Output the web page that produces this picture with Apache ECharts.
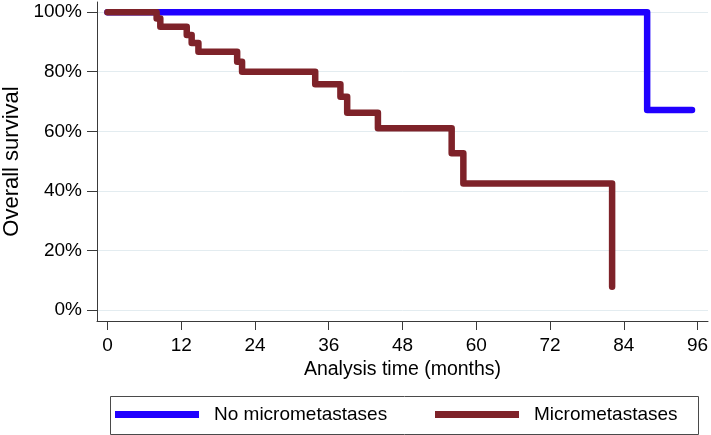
<!DOCTYPE html>
<html>
<head>
<meta charset="utf-8">
<script src="https://cdn.jsdelivr.net/npm/echarts@6/dist/echarts.min.js"></script>
<style>
html,body{margin:0;padding:0;background:#fff;}
#chart{width:711px;height:435px;}
</style>
</head>
<body>
<div id="chart"></div>
<script>
// Data (months, survival %)
var noMicroTime = [0, 87.8, 95.1];
var noMicroSurv = [100, 67.1, 67.1];
var microTime = [0, 8.0, 8.6, 12.9, 13.7, 14.8, 21.1, 21.9, 33.8, 37.9, 39.0, 44.0, 56.0, 57.9, 82.1];
var microSurv = [100, 97.9, 95.1, 92.3, 89.6, 86.7, 83.3, 80.0, 75.8, 71.6, 66.2, 61.0, 52.6, 42.5, 7.8];
var xTicks = [0, 12, 24, 36, 48, 60, 72, 84, 96];
var yTicks = [0, 20, 40, 60, 80, 100];
var seriesNames = ['No micrometastases', 'Micrometastases'];

function pairs(t, s) { return t.map(function (v, i) { return [v, s[i]]; }); }

var FONT = 'Liberation Sans, Arial, sans-serif';
var FS = 19;
var chart = echarts.init(document.getElementById('chart'), null, {renderer: 'canvas'});
chart.setOption({
  animation: false,
  backgroundColor: '#ffffff',
  grid: {left: 97, right: 3, top: 2, bottom: 114, containLabel: false, outerBoundsMode: 'none'},
  xAxis: {
    type: 'value', min: -1.7, max: 97.7,
    name: 'Analysis time (months)', nameLocation: 'middle', nameGap: 37,
    nameTextStyle: {fontFamily: FONT, fontSize: 19.5, color: '#000'},
    axisLine: {show: true, onZero: false, lineStyle: {color: '#3a3a3a', width: 1}},
    axisTick: {show: true, length: 9, customValues: xTicks, lineStyle: {color: '#3a3a3a'}},
    axisLabel: {customValues: xTicks, margin: 15, fontFamily: FONT, fontSize: FS, color: '#000'},
    splitLine: {show: false}
  },
  yAxis: {
    type: 'value', min: -3.7, max: 103.4,
    name: 'Overall survival', nameLocation: 'middle', nameGap: 74, nameRotate: 90,
    nameTextStyle: {fontFamily: FONT, fontSize: 22, color: '#000'},
    axisLine: {show: true, onZero: false, lineStyle: {color: '#3a3a3a', width: 1}},
    axisTick: {show: true, length: 10, customValues: yTicks, lineStyle: {color: '#3a3a3a'}},
    axisLabel: {customValues: yTicks, margin: 15, formatter: '{value}%', fontFamily: FONT, fontSize: FS, color: '#000'},
    splitLine: {show: false}
  },
  legend: [
    {data: [seriesNames[0]], left: 115, top: 405, icon: 'rect', itemWidth: 84, itemHeight: 7, itemGap: 0, padding: 0,
     textStyle: {fontFamily: FONT, fontSize: FS, color: '#000', padding: [0, 0, 0, 10]}},
    {data: [seriesNames[1]], left: 435, top: 405, icon: 'rect', itemWidth: 84, itemHeight: 7, itemGap: 0, padding: 0,
     textStyle: {fontFamily: FONT, fontSize: FS, color: '#000', padding: [0, 0, 0, 10]}}
  ],
  graphic: [{
    type: 'rect', left: 108, top: 394, silent: true,
    shape: {width: 588, height: 38},
    style: {fill: 'none', stroke: '#4a4a4a', lineWidth: 1}
  }],
  series: [
    {
      name: 'grid', type: 'line', data: [], silent: true, z: 0,
      markLine: {silent: true, symbol: 'none', label: {show: false}, z: 0,
        lineStyle: {color: '#e3ecf0', width: 1, type: 'solid'},
        data: yTicks.map(function (v) { return {yAxis: v}; })}
    },
    {
      name: seriesNames[0], type: 'line', step: 'end', data: pairs(noMicroTime, noMicroSurv), z: 5,
      showSymbol: false, color: '#2000ff',
      lineStyle: {width: 6.5, color: '#2000ff', cap: 'round', join: 'round'}
    },
    {
      name: seriesNames[1], type: 'line', step: 'end', data: pairs(microTime, microSurv), z: 6,
      showSymbol: false, color: '#7e2229',
      lineStyle: {width: 6.5, color: '#7e2229', cap: 'round', join: 'round'}
    }
  ]
});
</script>
</body>
</html>
